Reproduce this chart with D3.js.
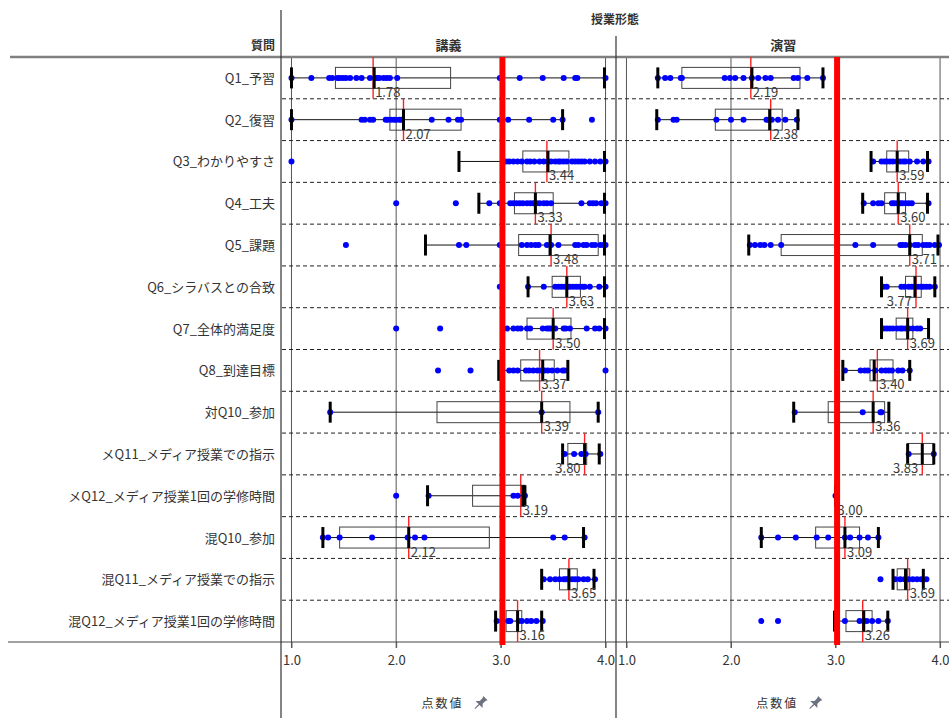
<!DOCTYPE html>
<html><head><meta charset="utf-8">
<script src="https://cdn.jsdelivr.net/npm/d3@7"></script>
<style>body{margin:0;background:#fff;} text{font-family:"Noto Sans CJK JP","Noto Sans",sans-serif;}</style>
</head><body>
<svg id="chart" width="949" height="718"></svg>
<script>
const questions = ["Q1_予習","Q2_復習","Q3_わかりやすさ","Q4_工夫","Q5_課題","Q6_シラバスとの合致","Q7_全体的満足度","Q8_到達目標","対Q10_参加","メQ11_メディア授業での指示","メQ12_メディア授業1回の学修時間","混Q10_参加","混Q11_メディア授業での指示","混Q12_メディア授業1回の学修時間"];
const panels = ["講義","演習"];
const tickValues = [1.0, 2.0, 3.0, 4.0];
const referenceValue = 3.015;

// [whiskerLow, q1, median, q3, whiskerHigh]
const lectureStats = [
  [1.00,1.42,1.79,2.52,3.99],[1.00,1.94,2.07,2.62,3.59],[2.60,3.21,3.45,3.65,3.99],[2.79,3.13,3.33,3.50,3.99],
  [2.28,3.17,3.47,3.93,3.99],[3.26,3.49,3.63,3.76,3.99],[3.01,3.25,3.50,3.67,3.99],[2.98,3.19,3.40,3.51,3.64],
  [1.37,2.39,3.39,3.66,3.93],[3.59,3.64,3.80,3.82,3.94],[2.30,2.73,3.21,3.23,3.23],[1.30,1.46,2.12,2.89,3.79],
  [3.39,3.56,3.65,3.73,3.89],[2.95,3.05,3.16,3.20,3.39]
];
const lectureMeans = [1.78,2.07,3.44,3.33,3.48,3.63,3.50,3.37,3.39,3.80,3.19,2.12,3.65,3.16];
const lecturePoints = [
  [1.00,1.19,1.36,1.39,1.44,1.46,1.49,1.52,1.56,1.62,1.67,1.75,1.80,1.82,1.84,1.88,1.91,1.94,2.01,2.99,3.18,3.40,3.60,3.71,3.73,4.00],
  [1.00,1.67,1.70,1.75,1.78,1.90,1.92,1.95,1.98,2.00,2.03,2.05,2.34,2.50,2.59,2.62,2.99,3.07,3.27,3.50,3.59,3.87],
  [1.00,3.05,3.08,3.12,3.16,3.20,3.25,3.28,3.32,3.37,3.41,3.45,3.48,3.52,3.55,3.57,3.60,3.63,3.68,3.71,3.74,3.77,3.80,3.85,3.90,3.95,4.00],
  [2.00,2.57,2.89,2.99,3.09,3.12,3.15,3.18,3.21,3.25,3.28,3.31,3.34,3.37,3.41,3.44,3.48,3.77,3.85,3.88,3.91,3.96,4.00],
  [1.52,2.60,2.67,2.99,3.20,3.25,3.29,3.33,3.36,3.44,3.48,3.55,3.71,3.74,3.79,3.82,3.87,3.90,3.95,3.98,4.00],
  [2.99,3.26,3.41,3.52,3.55,3.58,3.61,3.64,3.66,3.69,3.72,3.75,3.78,3.80,3.85,3.94,4.00],
  [2.00,2.42,3.06,3.12,3.16,3.19,3.25,3.28,3.40,3.44,3.46,3.48,3.52,3.60,3.62,3.66,3.82,3.90,3.94,4.00],
  [2.40,2.71,3.08,3.12,3.16,3.24,3.27,3.31,3.35,3.39,3.42,3.45,3.49,3.54,3.59,3.61,4.00],
  [1.37,3.39,3.93],
  [3.61,3.70,3.77,3.81,3.95],
  [2.00,2.31,3.12,3.16,3.23],
  [1.30,1.35,1.46,1.77,2.11,2.18,2.27,3.50,3.61,3.80],
  [3.41,3.47,3.52,3.56,3.60,3.62,3.64,3.68,3.71,3.74,3.79,3.83,3.90],
  [2.96,3.01,3.07,3.09,3.17,3.20,3.25,3.29,3.34,3.40]
];

const practiceStats = [
  [1.30,1.53,2.20,2.66,2.88],[1.29,1.85,2.37,2.49,2.64],[3.34,3.49,3.59,3.70,3.88],[3.26,3.47,3.60,3.67,3.88],
  [2.17,2.48,3.71,3.83,3.98],[3.44,3.67,3.76,3.82,3.95],[3.44,3.58,3.69,3.74,3.89],[3.07,3.33,3.37,3.55,3.71],
  [2.60,2.93,3.36,3.47,3.51],[3.69,3.69,3.83,3.94,3.94],[3.00,3.00,3.00,3.00,3.00],[2.29,2.81,3.09,3.23,3.41],
  [3.55,3.59,3.67,3.71,3.84],[2.99,3.10,3.27,3.35,3.50]
];
const practiceMeans = [2.19,2.38,3.59,3.60,3.71,3.77,3.69,3.40,3.36,3.83,3.00,3.09,3.69,3.26];
const practicePoints = [
  [1.30,1.37,1.42,1.52,1.53,1.94,1.99,2.04,2.12,2.20,2.26,2.33,2.38,2.60,2.64,2.73,2.88],
  [1.30,1.45,1.48,1.86,2.00,2.12,2.34,2.36,2.39,2.45,2.52,2.63],
  [3.36,3.44,3.47,3.49,3.52,3.55,3.59,3.62,3.65,3.67,3.71,3.78,3.84,3.89],
  [3.27,3.36,3.41,3.44,3.54,3.56,3.59,3.62,3.64,3.67,3.70,3.73,3.89],
  [2.18,2.23,2.28,2.32,2.38,2.48,3.19,3.36,3.62,3.64,3.67,3.71,3.76,3.79,3.84,3.87,3.90,3.95,3.99],
  [3.46,3.49,3.63,3.66,3.70,3.73,3.76,3.79,3.82,3.84,3.87,3.90,3.95],
  [3.46,3.49,3.52,3.55,3.59,3.62,3.64,3.67,3.70,3.74,3.78,3.81],
  [3.09,3.24,3.28,3.31,3.38,3.44,3.48,3.51,3.54,3.60,3.64,3.71],
  [2.61,3.26,3.43,3.44],
  [3.70,3.94],
  [3.00],
  [2.29,2.45,2.62,2.82,2.93,3.09,3.14,3.23,3.31,3.41],
  [3.43,3.57,3.62,3.66,3.70,3.74,3.78,3.82,3.87],
  [2.29,2.45,3.09,3.23,3.27,3.30,3.35,3.41,3.50]
];

const svg = d3.select("#chart");
const plotTop = 57, plotBottom = 642;
const y = d3.scaleBand().domain(questions).range([plotTop, plotBottom]).padding(0);
const xs = [
  d3.scaleLinear().domain([0.9, 4.1]).range([281, 616]),
  d3.scaleLinear().domain([0.9, 4.1]).range([616, 950.5])
];
const datasets = [
  {stats: lectureStats, means: lectureMeans, points: lecturePoints},
  {stats: practiceStats, means: practiceMeans, points: practicePoints}
];
const bh = y.bandwidth();

// header
svg.append("text").attr("x", 615).attr("y", 24).attr("text-anchor", "middle")
  .attr("font-size", 12).attr("fill", "#333").attr("font-weight", "bold").text("授業形態");
svg.append("text").attr("x", 275).attr("y", 50).attr("text-anchor", "end")
  .attr("font-size", 12).attr("fill", "#333").attr("font-weight", "bold").text("質問");
panels.forEach((p, i) => {
  const x = xs[i];
  svg.append("text").attr("x", (x.range()[0] + x.range()[1]) / 2).attr("y", 50).attr("text-anchor", "middle")
    .attr("font-size", 13).attr("fill", "#333").attr("font-weight", "bold").text(p);
});

// grid lines + axes
xs.forEach((x, i) => {
  const g = svg.append("g");
  tickValues.forEach(t => {
    g.append("line").attr("x1", x(t)).attr("x2", x(t)).attr("y1", plotTop).attr("y2", plotBottom + 6)
      .attr("stroke", "#555").attr("stroke-width", 1);
  });
  const ax = svg.append("g").attr("transform", `translate(0,${plotBottom})`)
    .call(d3.axisBottom(x).tickValues(tickValues).tickFormat(d3.format(".1f")).tickSize(6));
  ax.select(".domain").remove();
  ax.selectAll("line").attr("stroke", "#555");
  ax.selectAll("text").attr("font-size", 13).attr("fill", "#333").attr("dy", "1.05em")
    .style("font-family", '"Noto Sans CJK JP",sans-serif');
  const cx = (x.range()[0] + x.range()[1]) / 2 - 6;
  svg.append("text").attr("x", cx).attr("y", 708).attr("text-anchor", "middle")
    .attr("font-size", 12).attr("fill", "#333").attr("letter-spacing", "2px").text("点数値");
  svg.append("path").attr("transform", `translate(${cx + 38},703) rotate(45)`)
    .attr("d", "M-3,-7 L3,-7 L2,-5 L2,-1 L5,2 L-5,2 L-2,-1 L-2,-5 Z M-0.7,2 L0.7,2 L0.4,8 L-0.4,8 Z")
    .attr("fill", "#6b7280");
});

// row separators
questions.slice(1).forEach(q => {
  svg.append("line").attr("x1", 282).attr("x2", 949).attr("y1", y(q)).attr("y2", y(q))
    .attr("stroke", "#222").attr("stroke-width", 1).attr("stroke-dasharray", "4,3");
});

// frame lines
svg.append("line").attr("x1", 10).attr("x2", 949).attr("y1", plotTop).attr("y2", plotTop).attr("stroke", "#808080").attr("stroke-width", 2.5);
svg.append("line").attr("x1", 8).attr("x2", 949).attr("y1", plotBottom).attr("y2", plotBottom).attr("stroke", "#444").attr("stroke-width", 1);
svg.append("line").attr("x1", 281).attr("x2", 281).attr("y1", 10).attr("y2", 718).attr("stroke", "#333").attr("stroke-width", 1.2);
svg.append("line").attr("x1", 616).attr("x2", 616).attr("y1", 36).attr("y2", 718).attr("stroke", "#333").attr("stroke-width", 1.2);

// row labels
svg.append("g").selectAll("text").data(questions).join("text")
  .attr("x", 275).attr("y", q => y(q) + bh / 2 + 5).attr("text-anchor", "end")
  .attr("font-size", 13).attr("fill", "#333").text(q => q);

// boxes
datasets.forEach((ds, pi) => {
  const x = xs[pi];
  const g = svg.append("g");
  const right = x.range()[1];
  questions.forEach((q, qi) => {
    const cy = y(q) + bh / 2;
    const [lo, q1, med, q3, hi] = ds.stats[qi];
    const m = ds.means[qi];
    const bt = cy - 10.5, bb = cy + 10.5;
    g.append("line").attr("x1", x(m)).attr("x2", x(m)).attr("y1", y(q)).attr("y2", y(q) + bh)
      .attr("stroke", "#ff2020").attr("stroke-width", 1.4);
    g.append("line").attr("x1", x(lo)).attr("x2", x(hi)).attr("y1", cy).attr("y2", cy)
      .attr("stroke", "#111").attr("stroke-width", 1);
    g.append("rect").attr("x", x(q1)).attr("y", bt).attr("width", Math.max(0, x(q3) - x(q1))).attr("height", bb - bt)
      .attr("fill", "none").attr("stroke", "#444").attr("stroke-width", 1);
    g.selectAll(null).data(ds.points[qi]).join("circle")
      .attr("cx", d => x(d)).attr("cy", cy).attr("r", 3).attr("fill", "#0000ff");
    [lo, hi, med].forEach(v => {
      g.append("line").attr("x1", x(v)).attr("x2", x(v)).attr("y1", bt).attr("y2", bb)
        .attr("stroke", "#000").attr("stroke-width", 3);
    });
    const lbl = g.append("text").attr("y", cy + 19).attr("font-size", 13).attr("fill", "#3a3a3a")
      .text(d3.format(".2f")(m));
    const w = lbl.node().getComputedTextLength();
    if (x(m) + 3 + w > right - 8) {
      lbl.attr("x", x(m) - 4).attr("text-anchor", "end");
    } else {
      lbl.attr("x", x(m) + 2);
    }
  });
  svg.append("line").attr("x1", x(referenceValue)).attr("x2", x(referenceValue)).attr("y1", plotTop).attr("y2", plotBottom + 3)
    .attr("stroke", "#ff0000").attr("stroke-width", 6);
});
</script>
</body></html>
